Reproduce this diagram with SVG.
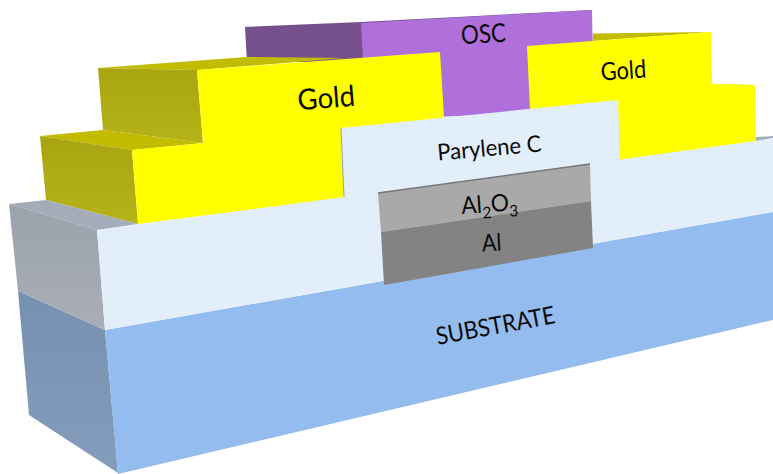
<svg xmlns="http://www.w3.org/2000/svg" width="773" height="474" viewBox="0 0 773 474">
<style>
text{font-family:"Lato","Open Sans",sans-serif;fill:#0a0a0a}
.gold{fill:#ffff00}.olivetop{fill:#c2bc00}
</style>
<defs>
<linearGradient id="ol" x1="0" y1="0" x2="0" y2="1"><stop offset="0" stop-color="#a9a511"/><stop offset="1" stop-color="#b6b218"/></linearGradient>
<linearGradient id="gs" x1="0" y1="0" x2="0" y2="1"><stop offset="0" stop-color="#9ba2ac"/><stop offset="1" stop-color="#a9aeb6"/></linearGradient>
<linearGradient id="bs" x1="0" y1="0" x2="0" y2="1"><stop offset="0" stop-color="#7690b1"/><stop offset="1" stop-color="#859dbc"/></linearGradient>
</defs>
<rect width="773" height="474" fill="#fff"/>
<g id="osc">
<polygon points="245,27 361,22 592,10 592,14 365,62 247,62" fill="#76508d"/>
<polygon points="361,23 592,10 594,110 366,120" fill="#af70dc"/>
<text transform="translate(484,43) rotate(-3.5) scale(.86,1)" font-size="26" text-anchor="middle">OSC</text>
</g>
<g id="gold-right">
<polygon points="593,33.500 711,32 593,41" class="olivetop"/>
<polygon points="712,84 755,85 712,88" class="olivetop"/>
<polygon points="527,46 711,32 712,84 755,85 756,141 620,160 600,130 530,110" class="gold"/>
<text transform="translate(624,79) rotate(-3.500) scale(.87,1)" font-size="25" text-anchor="middle">Gold</text>
</g>
<g id="gold-left">
<polygon points="98,68 247,57 345,58 197,70" class="olivetop"/>
<polygon points="98,68 197,70 203,143 103,130" fill="url(#ol)"/>
<polygon points="103,130 40,136 132,150 203,143" class="olivetop"/>
<polygon points="40,136 132,150 138,224 46,200" fill="url(#ol)"/>
<polygon points="197,70 440,52 444,117 360,150 344,198 138,224 132,150 203,143" class="gold"/>
<text transform="translate(327,108) rotate(-4.500) scale(.95,1)" font-size="29" text-anchor="middle">Gold</text>
</g>
<g id="substrate">
<polygon points="18,291 105,330 118,473 29,415" fill="url(#bs)"/>
<polygon points="105,330 773,212 773,320 118,474" fill="#95bcee"/>
<text transform="translate(497,334) rotate(-10.500) scale(.9,1)" font-size="24.500" text-anchor="middle">SUBSTRATE</text>
</g>
<g id="parylene">
<polygon points="9,204 46,200 138,224 97,230" fill="#a3acb8"/>
<polygon points="9,204 97,230 105,330 18,291" fill="url(#gs)"/>
<polygon points="756,141 756,137 773,136 773,138" fill="#a3acb8"/>
<polygon points="97,230 344,197 341,128 618,100 620,159.500 756,141 773,138 773,212 105,330" fill="#e3eefb"/>
<line x1="341" y1="128" x2="344" y2="197" stroke="#9aa3b0" stroke-width="1"/>
<text transform="translate(490,156) rotate(-5) scale(.96,1)" font-size="23" text-anchor="middle">Parylene C</text>
</g>
<g id="al2o3">
<polygon points="378,193 590,164 591,201 381,232" fill="#a9a9a9"/>
<line x1="378" y1="193" x2="590" y2="164" stroke="#777" stroke-width="1.500"/>
</g>
<g id="al">
<polygon points="381,232 591,201 593,248 384,285" fill="#838383"/>
<text transform="translate(492,251) rotate(-3) scale(.9,1)" font-size="24" text-anchor="middle">Al</text>
</g>
<text id="al2o3-label" transform="translate(490,212) rotate(-4) scale(.95,1)" font-size="24" text-anchor="middle">Al<tspan font-size="16" dy="6">2</tspan><tspan dy="-6">O</tspan><tspan font-size="16" dy="6">3</tspan></text>
<g id="connectors"/>
</svg>
